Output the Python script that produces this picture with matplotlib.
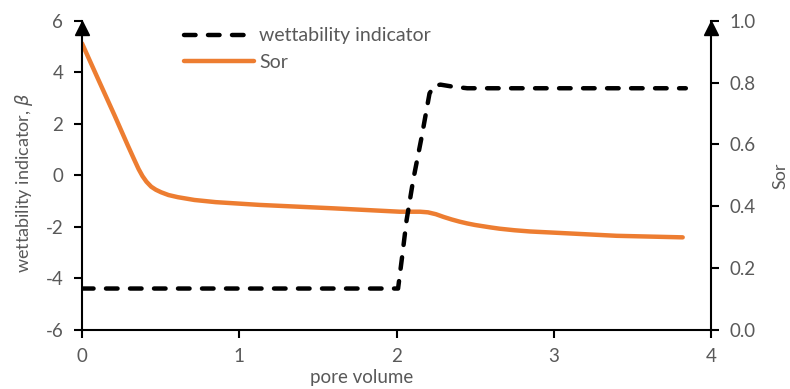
import matplotlib
matplotlib.use("Agg")
import matplotlib.pyplot as plt
from matplotlib.transforms import ScaledTranslation

# wettability indicator (left axis)
pv_w = [0, 2.01, 2.035, 2.064, 2.106, 2.16, 2.21, 2.24, 2.28, 2.35, 2.45, 3.84]
beta = [-4.4, -4.4, -3.2, -1.75, -0.19, 1.49, 3.18, 3.48, 3.52, 3.45, 3.38, 3.38]

# residual oil saturation (right axis)
pv_s = [0, 0.1, 0.206, 0.29, 0.33, 0.36, 0.385, 0.41, 0.44, 0.47, 0.503, 0.55, 0.61,
        0.715, 0.85, 1.13, 1.597, 2.02, 2.15, 2.2, 2.25, 2.3, 2.35, 2.4, 2.45, 2.5,
        2.55, 2.6, 2.656, 2.75, 2.85, 2.97, 3.4, 3.82]
sor = [0.927, 0.814, 0.695, 0.598, 0.553, 0.52, 0.497, 0.479, 0.463, 0.453, 0.445,
       0.436, 0.429, 0.42, 0.413, 0.404, 0.393, 0.382, 0.382, 0.38, 0.374, 0.365, 0.357,
       0.35, 0.344, 0.339, 0.335, 0.331, 0.327, 0.322, 0.318, 0.315, 0.304, 0.299]

plt.rcParams["font.family"] = ["Lato", "DejaVu Sans"]
plt.rcParams["axes.unicode_minus"] = False
gray = "#595959"

fig = plt.figure(figsize=(7.9, 3.89), dpi=100)
ax = fig.add_axes([0.1038, 0.1524, 0.7962, 0.7941])
ax2 = ax.twinx()
ax.set_zorder(ax2.get_zorder() + 1)
ax.patch.set_visible(False)

l1, = ax.plot(pv_w, beta, color="black", lw=3.2, linestyle=(0, (2.6, 2.8)),
              dash_capstyle="round", label="wettability indicator")
l2, = ax2.plot(pv_s, sor, color="#ED7D31", lw=3.2, solid_capstyle="round", label="Sor")

ax.set_xlim(0, 4)
ax.set_ylim(-6, 6)
ax2.set_ylim(0, 1)
ax.set_xticks([0, 1, 2, 3, 4])
ax.set_yticks(range(-6, 7, 2))
ax2.set_yticks([0, 0.2, 0.4, 0.6, 0.8, 1.0])
ax2.set_yticklabels(["0.0", "0.2", "0.4", "0.6", "0.8", "1.0"])

for a in (ax, ax2):
    a.spines["top"].set_visible(False)
    for s in a.spines.values():
        s.set_linewidth(1.5)
    a.tick_params(colors="black", labelcolor=gray, labelsize=13.5, width=1.5,
                  length=5.5, pad=8)
ax2.spines["left"].set_visible(False)
ax2.spines["bottom"].set_visible(False)
ax.spines["right"].set_visible(False)

ax.set_ylabel("wettability indicator, $\\beta$", color=gray, fontsize=13, va="center")
ax2.set_ylabel("Sor", color=gray, fontsize=13, rotation=90, va="center")
ax.set_xlabel("pore volume", color=gray, fontsize=13.5, va="center")
ax.xaxis.set_label_coords(0.445, -0.155)
ax.yaxis.set_label_coords(-0.092, 0.475)
ax2.yaxis.set_label_coords(1.11, 0.5)

# arrow heads at the top of both y axes
off = ScaledTranslation(0, -5 / 72, fig.dpi_scale_trans)
for xa in (0, 1):
    ax.plot([xa], [1], marker="^", markersize=10, color="black",
            transform=ax.transAxes + off, clip_on=False, zorder=5)

ax.legend([l1, l2], ["wettability indicator", "Sor"], loc="upper left",
          bbox_to_anchor=(0.135, 1.035), frameon=False, fontsize=14,
          handlelength=3.6, handletextpad=0.25, labelspacing=0.5, labelcolor=gray)

fig.savefig("out.png", dpi=100)
